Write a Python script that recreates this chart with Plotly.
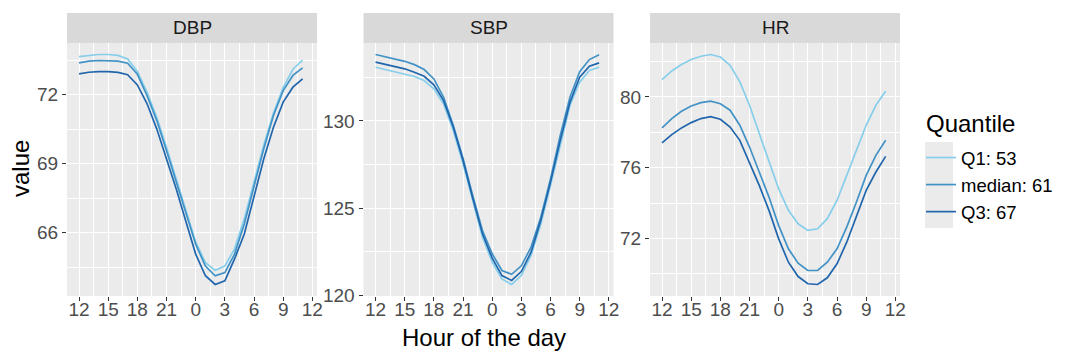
import plotly.graph_objects as go

# ---------------- data ----------------
hour_of_day = [12, 13, 14, 15, 16, 17, 18, 19, 20, 21, 22, 23,
               0, 1, 2, 3, 4, 5, 6, 7, 8, 9, 10, 11]
tick_hours = [12, 15, 18, 21, 0, 3, 6, 9, 12]
panels = ["DBP", "SBP", "HR"]
quantile_names = ["Q1: 53", "median: 61", "Q3: 67"]

dbp_q1 = [73.65, 73.71, 73.74, 73.74, 73.70, 73.55, 73.00, 72.10, 71.00, 69.70, 68.35, 66.96,
          65.60, 64.70, 64.37, 64.55, 65.30, 66.60, 68.20, 69.80, 71.20, 72.30, 73.10, 73.50]
dbp_med = [73.38, 73.45, 73.48, 73.48, 73.45, 73.36, 72.88, 71.95, 70.87, 69.56, 68.20, 66.81,
           65.50, 64.55, 64.13, 64.27, 65.07, 66.38, 67.97, 69.64, 71.09, 72.17, 72.83, 73.16]
dbp_q3 = [72.90, 72.97, 73.00, 73.00, 72.96, 72.86, 72.42, 71.60, 70.50, 69.25, 67.90, 66.48,
          65.07, 64.13, 63.75, 63.91, 64.86, 65.94, 67.53, 69.20, 70.58, 71.67, 72.32, 72.68]

sbp_q1 = [133.07, 132.94, 132.82, 132.69, 132.54, 132.31, 131.83, 130.97, 129.44, 127.54, 125.44, 123.34,
          121.91, 120.95, 120.63, 121.14, 122.29, 124.10, 126.30, 128.68, 130.88, 132.21, 132.88, 133.07]
sbp_med = [133.80, 133.68, 133.55, 133.41, 133.22, 132.94, 132.40, 131.35, 129.73, 127.86, 125.72, 123.72,
           122.39, 121.43, 121.21, 121.70, 122.77, 124.48, 126.68, 129.16, 131.35, 132.82, 133.51, 133.78]
sbp_q3 = [133.36, 133.24, 133.10, 132.98, 132.78, 132.55, 132.06, 131.16, 129.63, 127.73, 125.57, 123.53,
          122.14, 121.14, 120.86, 121.37, 122.48, 124.29, 126.49, 128.87, 131.06, 132.50, 133.13, 133.32]

hr_q1 = [80.98, 81.47, 81.83, 82.12, 82.30, 82.40, 82.26, 81.79, 80.85, 79.53, 77.93, 76.32,
         74.80, 73.59, 72.83, 72.46, 72.55, 73.12, 74.15, 75.57, 76.98, 78.40, 79.53, 80.32]
hr_med = [78.25, 78.78, 79.19, 79.49, 79.68, 79.76, 79.62, 79.25, 78.40, 77.17, 75.76, 74.34,
          72.73, 71.42, 70.60, 70.19, 70.19, 70.66, 71.42, 72.64, 74.06, 75.57, 76.70, 77.55]
hr_q3 = [77.40, 77.87, 78.25, 78.55, 78.78, 78.89, 78.74, 78.30, 77.55, 76.32, 75.00, 73.59,
         71.98, 70.66, 69.85, 69.44, 69.40, 69.78, 70.57, 71.79, 73.21, 74.72, 75.76, 76.64]

dbp_ticks = [66, 69, 72]
sbp_ticks = [120, 125, 130]
hr_ticks = [72, 76, 80]

# ---------------- styling ----------------
W, H = 1080, 360
colors = ["#87CEEB", "#4292C6", "#2166AC"]
FONT = "Liberation Sans"
panel_px = [(67, 317), (363.5, 613.5), (650, 900)]
panel_top, panel_bot = 43, 296
strip_top = 13

series = {
    "DBP": [dbp_q1, dbp_med, dbp_q3],
    "SBP": [sbp_q1, sbp_med, sbp_q3],
    "HR": [hr_q1, hr_med, hr_q3],
}
yticks = {"DBP": dbp_ticks, "SBP": sbp_ticks, "HR": hr_ticks}

x_pos = list(range(len(hour_of_day)))
tick_pos = [3 * i for i in range(len(tick_hours))]
minor_x = [p + 1.5 for p in tick_pos[:-1]]


def padded_range(vals_lists):
    lo = min(min(v) for v in vals_lists)
    hi = max(max(v) for v in vals_lists)
    pad = 0.05 * (hi - lo)
    return [lo - pad, hi + pad]


fig = go.Figure()
layout_axes = {}
for i, name in enumerate(panels):
    sfx = "" if i == 0 else str(i + 1)
    for q, (qname, col) in enumerate(zip(quantile_names, colors)):
        fig.add_trace(go.Scatter(
            x=x_pos, y=series[name][q], mode="lines", name=qname,
            line=dict(color=col, width=1.7),
            xaxis="x" + sfx, yaxis="y" + sfx,
            showlegend=(i == 0), legendgroup=qname,
            hovertemplate="%{y}<extra>" + qname + "</extra>",
        ))
    x0, x1 = panel_px[i]
    yr = padded_range(series[name])
    t = yticks[name]
    step = t[1] - t[0]
    minor_y = [t[0] - step / 2] + [v + step / 2 for v in t]
    layout_axes["xaxis" + sfx] = dict(
        domain=[x0 / W, x1 / W], anchor="y" + sfx, range=[-1.24, 24.48],
        tickmode="array", tickvals=tick_pos, ticktext=[str(h) for h in tick_hours],
        ticks="outside", ticklen=4, tickwidth=1.1, tickcolor="#333333",
        ticklabelstandoff=-8, ticklabeloverflow="allow",
        tickfont=dict(family=FONT, size=19, color="#4D4D4D"),
        showgrid=True, gridcolor="white", gridwidth=1.1,
        minor=dict(tickmode="array", tickvals=minor_x, showgrid=True,
                   gridcolor="white", gridwidth=0.55, ticks=""),
        zeroline=False, showline=False, fixedrange=True, automargin=False,
    )
    layout_axes["yaxis" + sfx] = dict(
        domain=[1 - panel_bot / H, 1 - panel_top / H], anchor="x" + sfx, range=yr,
        tickmode="array", tickvals=t, ticktext=[str(v) for v in t],
        ticks="outside", ticklen=4, tickwidth=1.1, tickcolor="#333333",
        ticklabeloverflow="allow",
        tickfont=dict(family=FONT, size=19, color="#4D4D4D"),
        showgrid=True, gridcolor="white", gridwidth=1.1,
        minor=dict(tickmode="array", tickvals=minor_y, showgrid=True,
                   gridcolor="white", gridwidth=0.55, ticks=""),
        zeroline=False, showline=False, fixedrange=True, automargin=False,
    )

shapes = []
annotations = []
for i, name in enumerate(panels):
    x0, x1 = panel_px[i]
    shapes.append(dict(type="rect", xref="paper", yref="paper",
                       x0=x0 / W, x1=x1 / W, y0=1 - panel_top / H, y1=1 - strip_top / H,
                       fillcolor="#D9D9D9", line=dict(width=0), layer="below"))
    annotations.append(dict(text=name, xref="paper", yref="paper",
                            x=(x0 + x1) / 2 / W, y=1 - (panel_top + strip_top) / 2 / H,
                            xanchor="center", yanchor="middle", showarrow=False,
                            font=dict(family=FONT, size=19, color="#1A1A1A")))

# legend key background
shapes.append(dict(type="rect", xref="paper", yref="paper",
                   x0=925 / W, x1=953 / W, y0=1 - 228 / H, y1=1 - 142 / H,
                   fillcolor="#EBEBEB", line=dict(width=0), layer="below"))

annotations.append(dict(text="value", xref="paper", yref="paper", x=20 / W, y=1 - 169 / H,
                        xanchor="center", yanchor="middle", textangle=-90, showarrow=False,
                        font=dict(family=FONT, size=24, color="black")))
annotations.append(dict(text="Hour of the day", xref="paper", yref="paper",
                        x=483.5 / W, y=1 - 337 / H,
                        xanchor="center", yanchor="middle", showarrow=False,
                        font=dict(family=FONT, size=24, color="black")))
annotations.append(dict(text="Quantile", xref="paper", yref="paper",
                        x=924 / W, y=1 - 123 / H,
                        xanchor="left", yanchor="middle", showarrow=False,
                        font=dict(family=FONT, size=24, color="black")))

fig.update_layout(
    width=W, height=H, margin=dict(l=0, r=0, t=0, b=0, pad=0),
    paper_bgcolor="white", plot_bgcolor="#EBEBEB",
    font=dict(family=FONT),
    shapes=shapes, annotations=annotations,
    showlegend=True,
    legend=dict(
        x=921 / W, xanchor="left", y=1 - 139 / H, yanchor="top",
        bgcolor="rgba(0,0,0,0)", borderwidth=0,
        font=dict(family=FONT, size=18.5, color="black"),
        itemwidth=30, traceorder="normal",
    ),
    **layout_axes,
)

fig.write_html(
    "out.html",
    config={"displayModeBar": False},
    post_script="document.body.style.margin='0';document.body.style.overflow='hidden';",
)
